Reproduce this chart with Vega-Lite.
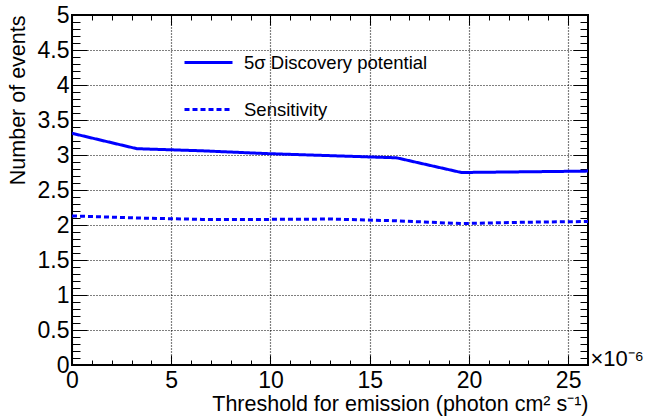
{
  "$schema": "https://vega.github.io/schema/vega-lite/v6.json",
  "width": 516,
  "height": 350,
  "autosize": {"type": "none"},
  "padding": {"left": 72, "top": 15, "right": 61, "bottom": 52},
  "background": "white",
  "config": {
    "font": "Liberation Sans",
    "view": {"stroke": "black", "strokeWidth": 2},
    "axis": {"domain": false, "labelColor": "black", "titleColor": "black", "titleFontWeight": "normal", "tickColor": "black", "tickWidth": 1}
  },
  "data": {
    "values": [
      {"threshold": 0, "events": 3.31, "series": "5σ Discovery potential"},
      {"threshold": 3.27e-6, "events": 3.09, "series": "5σ Discovery potential"},
      {"threshold": 6.54e-6, "events": 3.06, "series": "5σ Discovery potential"},
      {"threshold": 9.81e-6, "events": 3.02, "series": "5σ Discovery potential"},
      {"threshold": 1.308e-5, "events": 2.99, "series": "5σ Discovery potential"},
      {"threshold": 1.635e-5, "events": 2.96, "series": "5σ Discovery potential"},
      {"threshold": 1.962e-5, "events": 2.75, "series": "5σ Discovery potential"},
      {"threshold": 2.289e-5, "events": 2.76, "series": "5σ Discovery potential"},
      {"threshold": 2.6e-5, "events": 2.77, "series": "5σ Discovery potential"},
      {"threshold": 0, "events": 2.13, "series": "Sensitivity"},
      {"threshold": 3.27e-6, "events": 2.10, "series": "Sensitivity"},
      {"threshold": 6.54e-6, "events": 2.08, "series": "Sensitivity"},
      {"threshold": 9.81e-6, "events": 2.08, "series": "Sensitivity"},
      {"threshold": 1.308e-5, "events": 2.085, "series": "Sensitivity"},
      {"threshold": 1.635e-5, "events": 2.06, "series": "Sensitivity"},
      {"threshold": 1.962e-5, "events": 2.02, "series": "Sensitivity"},
      {"threshold": 2.289e-5, "events": 2.04, "series": "Sensitivity"},
      {"threshold": 2.6e-5, "events": 2.05, "series": "Sensitivity"}
    ]
  },
  "resolve": {"axis": {"x": "independent", "y": "independent"}},
  "layer": [
    {
      "mark": {"type": "line", "color": "#0000ff", "strokeWidth": 3, "clip": true},
      "encoding": {
        "x": {
          "field": "threshold", "type": "quantitative",
          "scale": {"domain": [0, 2.6e-5], "nice": false, "zero": false},
          "axis": {
            "orient": "bottom",
            "values": [0, 5e-6, 1e-5, 1.5e-5, 2e-5, 2.5e-5],
            "labelExpr": "format(datum.value * 1e6, '~g')",
            "labelFontSize": 23, "labelPadding": 4, "labelFlush": false, "labelOverlap": false,
            "ticks": false,
            "grid": true, "gridColor": "black", "gridOpacity": 1, "gridDash": [1, 2], "gridWidth": 1.2,
            "title": "Threshold for emission (photon cm² s⁻¹)",
            "titleFontSize": 21.5, "titleAnchor": "end", "titlePadding": 1
          }
        },
        "y": {
          "field": "events", "type": "quantitative",
          "scale": {"domain": [0, 5], "nice": false},
          "axis": {
            "orient": "left",
            "values": [0, 0.5, 1, 1.5, 2, 2.5, 3, 3.5, 4, 4.5, 5],
            "format": "~g",
            "labelFontSize": 23, "labelPadding": 3, "labelFlush": false, "labelOverlap": false,
            "ticks": false,
            "grid": true, "gridColor": "black", "gridOpacity": 1, "gridDash": [1, 2], "gridWidth": 1.2,
            "title": "Number of events",
            "titleFontSize": 21.5, "titleAnchor": "end", "titlePadding": 8
          }
        },
        "strokeDash": {
          "field": "series", "type": "nominal",
          "scale": {"domain": ["5σ Discovery potential", "Sensitivity"], "range": [[1, 0], [5, 3]]},
          "legend": {
            "orient": "none", "legendX": 111, "legendY": 22, "title": null,
            "symbolType": "stroke", "symbolSize": 2304, "symbolStrokeWidth": 3,
            "symbolStrokeColor": "#0000ff",
            "labelFontSize": 18.5, "labelColor": "black", "labelOffset": 10, "labelLimit": 300,
            "rowPadding": 12, "padding": 0
          }
        }
      }
    },
    {
      "mark": {"type": "line", "opacity": 0},
      "encoding": {
        "x": {"field": "threshold", "type": "quantitative",
          "axis": {"orient": "bottom", "values": [0, 5e-6, 1e-5, 1.5e-5, 2e-5, 2.5e-5], "labels": false, "grid": false, "ticks": true, "tickSize": -10, "title": "×10⁻⁶", "titleFontSize": 22, "titleAlign": "left", "titleBaseline": "alphabetic", "titleX": 518, "titleY": 0, "titleAngle": 0}},
        "y": {"field": "events", "type": "quantitative",
          "axis": {"orient": "left", "values": [0, 0.5, 1, 1.5, 2, 2.5, 3, 3.5, 4, 4.5, 5], "labels": false, "grid": false, "ticks": true, "tickSize": -15, "title": null}}
      }
    },
    {
      "mark": {"type": "line", "opacity": 0},
      "encoding": {
        "x": {"field": "threshold", "type": "quantitative",
          "axis": {"orient": "bottom", "values": [0, 1e-6, 2e-6, 3e-6, 4e-6, 5e-6, 6e-6, 7e-6, 8e-6, 9e-6, 1e-5, 1.1e-5, 1.2e-5, 1.3e-5, 1.4e-5, 1.5e-5, 1.6e-5, 1.7e-5, 1.8e-5, 1.9e-5, 2e-5, 2.1e-5, 2.2e-5, 2.3e-5, 2.4e-5, 2.5e-5, 2.6e-5], "labels": false, "grid": false, "ticks": true, "tickSize": -5, "title": null}},
        "y": {"field": "events", "type": "quantitative",
          "axis": {"orient": "left", "values": [0, 0.1, 0.2, 0.3, 0.4, 0.5, 0.6, 0.7, 0.8, 0.9, 1, 1.1, 1.2, 1.3, 1.4, 1.5, 1.6, 1.7, 1.8, 1.9, 2, 2.1, 2.2, 2.3, 2.4, 2.5, 2.6, 2.7, 2.8, 2.9, 3, 3.1, 3.2, 3.3, 3.4, 3.5, 3.6, 3.7, 3.8, 3.9, 4, 4.1, 4.2, 4.3, 4.4, 4.5, 4.6, 4.7, 4.8, 4.9, 5], "labels": false, "grid": false, "ticks": true, "tickSize": -8, "title": null}}
      }
    },
    {
      "mark": {"type": "line", "opacity": 0},
      "encoding": {
        "x": {"field": "threshold", "type": "quantitative",
          "axis": {"orient": "top", "values": [0, 5e-6, 1e-5, 1.5e-5, 2e-5, 2.5e-5], "labels": false, "grid": false, "ticks": true, "tickSize": -10, "title": null}},
        "y": {"field": "events", "type": "quantitative",
          "axis": {"orient": "right", "values": [0, 0.5, 1, 1.5, 2, 2.5, 3, 3.5, 4, 4.5, 5], "labels": false, "grid": false, "ticks": true, "tickSize": -15, "title": null}}
      }
    },
    {
      "mark": {"type": "line", "opacity": 0},
      "encoding": {
        "x": {"field": "threshold", "type": "quantitative",
          "axis": {"orient": "top", "values": [0, 1e-6, 2e-6, 3e-6, 4e-6, 5e-6, 6e-6, 7e-6, 8e-6, 9e-6, 1e-5, 1.1e-5, 1.2e-5, 1.3e-5, 1.4e-5, 1.5e-5, 1.6e-5, 1.7e-5, 1.8e-5, 1.9e-5, 2e-5, 2.1e-5, 2.2e-5, 2.3e-5, 2.4e-5, 2.5e-5, 2.6e-5], "labels": false, "grid": false, "ticks": true, "tickSize": -5, "title": null}},
        "y": {"field": "events", "type": "quantitative",
          "axis": {"orient": "right", "values": [0, 0.1, 0.2, 0.3, 0.4, 0.5, 0.6, 0.7, 0.8, 0.9, 1, 1.1, 1.2, 1.3, 1.4, 1.5, 1.6, 1.7, 1.8, 1.9, 2, 2.1, 2.2, 2.3, 2.4, 2.5, 2.6, 2.7, 2.8, 2.9, 3, 3.1, 3.2, 3.3, 3.4, 3.5, 3.6, 3.7, 3.8, 3.9, 4, 4.1, 4.2, 4.3, 4.4, 4.5, 4.6, 4.7, 4.8, 4.9, 5], "labels": false, "grid": false, "ticks": true, "tickSize": -8, "title": null}}
      }
    }
  ]
}
